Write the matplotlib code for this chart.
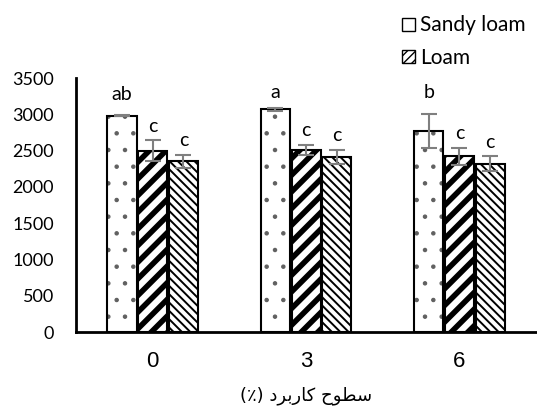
import numpy as np
import matplotlib
matplotlib.use('Agg')
from matplotlib import pyplot as plt
from matplotlib.patches import Patch

levels = ['0', '3', '6']
series = ['Sandy loam', 'Loam', 'Clay']
sandy = [2980, 3070, 2770]
sandy_err = [10, 20, 240]
loam = [2500, 2510, 2420]
loam_err = [145, 70, 120]
clay = [2350, 2410, 2320]
clay_err = [90, 100, 100]
letters = [['ab', 'a', 'b'], ['c', 'c', 'c'], ['c', 'c', 'c']]
letter_pad = [[9, 5, 9], [4, 4, 4], [4, 4, 4]]  # points above the error bar

# Persian axis title, shaped by hand (presentation forms, visual order)
word1 = '\uFEA1\uFEEE\uFEC4\uFEB3'              # سطوح
word2 = '\uFEA9\uFEAE\uFE91\uFEAD\uFE8E\uFB90'  # کاربرد
xlabel = '(\u066A) ' + word2 + ' ' + word1

fig = plt.figure(figsize=(5.37, 4.11), dpi=100)
ax = fig.add_axes([0.1415, 0.1922, 0.857, 0.618])

x = np.arange(len(levels))
w = 0.19
step = 0.2

def set_hlw(patch, lw):
    if hasattr(patch, 'set_hatch_linewidth'):
        patch.set_hatch_linewidth(lw)

# sandy loam: grey dots on white
with plt.rc_context({'hatch.linewidth': 0.8}):
    b = ax.bar(x - step, sandy, w, color='white', edgecolor='#606060', hatch='.', linewidth=0)
for p in b:
    set_hlw(p, 0.8)
ax.bar(x - step, sandy, w, fill=False, edgecolor='black', linewidth=1.5)

with plt.rc_context({'hatch.linewidth': 4.0}):
    b = ax.bar(x, loam, w, color='white', edgecolor='black', hatch='//', linewidth=1.5)
for p in b:
    set_hlw(p, 4.0)

with plt.rc_context({'hatch.linewidth': 1.4}):
    b = ax.bar(x + step, clay, w, color='white', edgecolor='black', hatch='\\\\\\\\', linewidth=1.5)
for p in b:
    set_hlw(p, 1.4)

groups = [(-step, sandy, sandy_err), (0, loam, loam_err), (step, clay, clay_err)]
for off, vals, errs in groups:
    ax.errorbar(x + off, vals, yerr=errs, fmt='none', ecolor='#7f7f7f',
                elinewidth=1.5, capsize=6, capthick=1.5)

for i, (off, vals, errs) in enumerate(groups):
    for j in range(len(levels)):
        ax.annotate(letters[i][j], (x[j] + off, vals[j] + errs[j]), xytext=(0, letter_pad[i][j]),
                    textcoords='offset points', ha='center', va='bottom',
                    fontsize=14, family='Lato')

ax.set_xlim(-0.5, 2.5)
ax.set_ylim(0, 3500)
ax.set_yticks(range(0, 3501, 500))
ax.set_xticks(x)
ax.set_xticklabels(levels, fontsize=16, family='Liberation Sans')
ax.tick_params(axis='y', length=0, pad=16, labelsize=13)
ax.tick_params(axis='x', length=0, pad=14)
for lab in ax.get_yticklabels():
    lab.set_family('Lato')
ax.spines['top'].set_visible(False)
ax.spines['right'].set_visible(False)
ax.spines['left'].set_linewidth(2)
ax.spines['bottom'].set_linewidth(2)
ax.set_xlabel(xlabel, fontsize=13, family='DejaVu Sans', labelpad=10)

handles = [
    Patch(facecolor='white', edgecolor='black', hatch='.', linewidth=1),
    Patch(facecolor='white', edgecolor='black', hatch='////', linewidth=1),
]
fig.legend(handles, series[:2], loc='upper left', bbox_to_anchor=(0.714, 1.008),
           frameon=False, prop={'family': 'Lato', 'size': 15},
           handlelength=0.6, handleheight=0.6, handletextpad=0.25, labelspacing=0.6)

plt.savefig('out.png', dpi=100)
